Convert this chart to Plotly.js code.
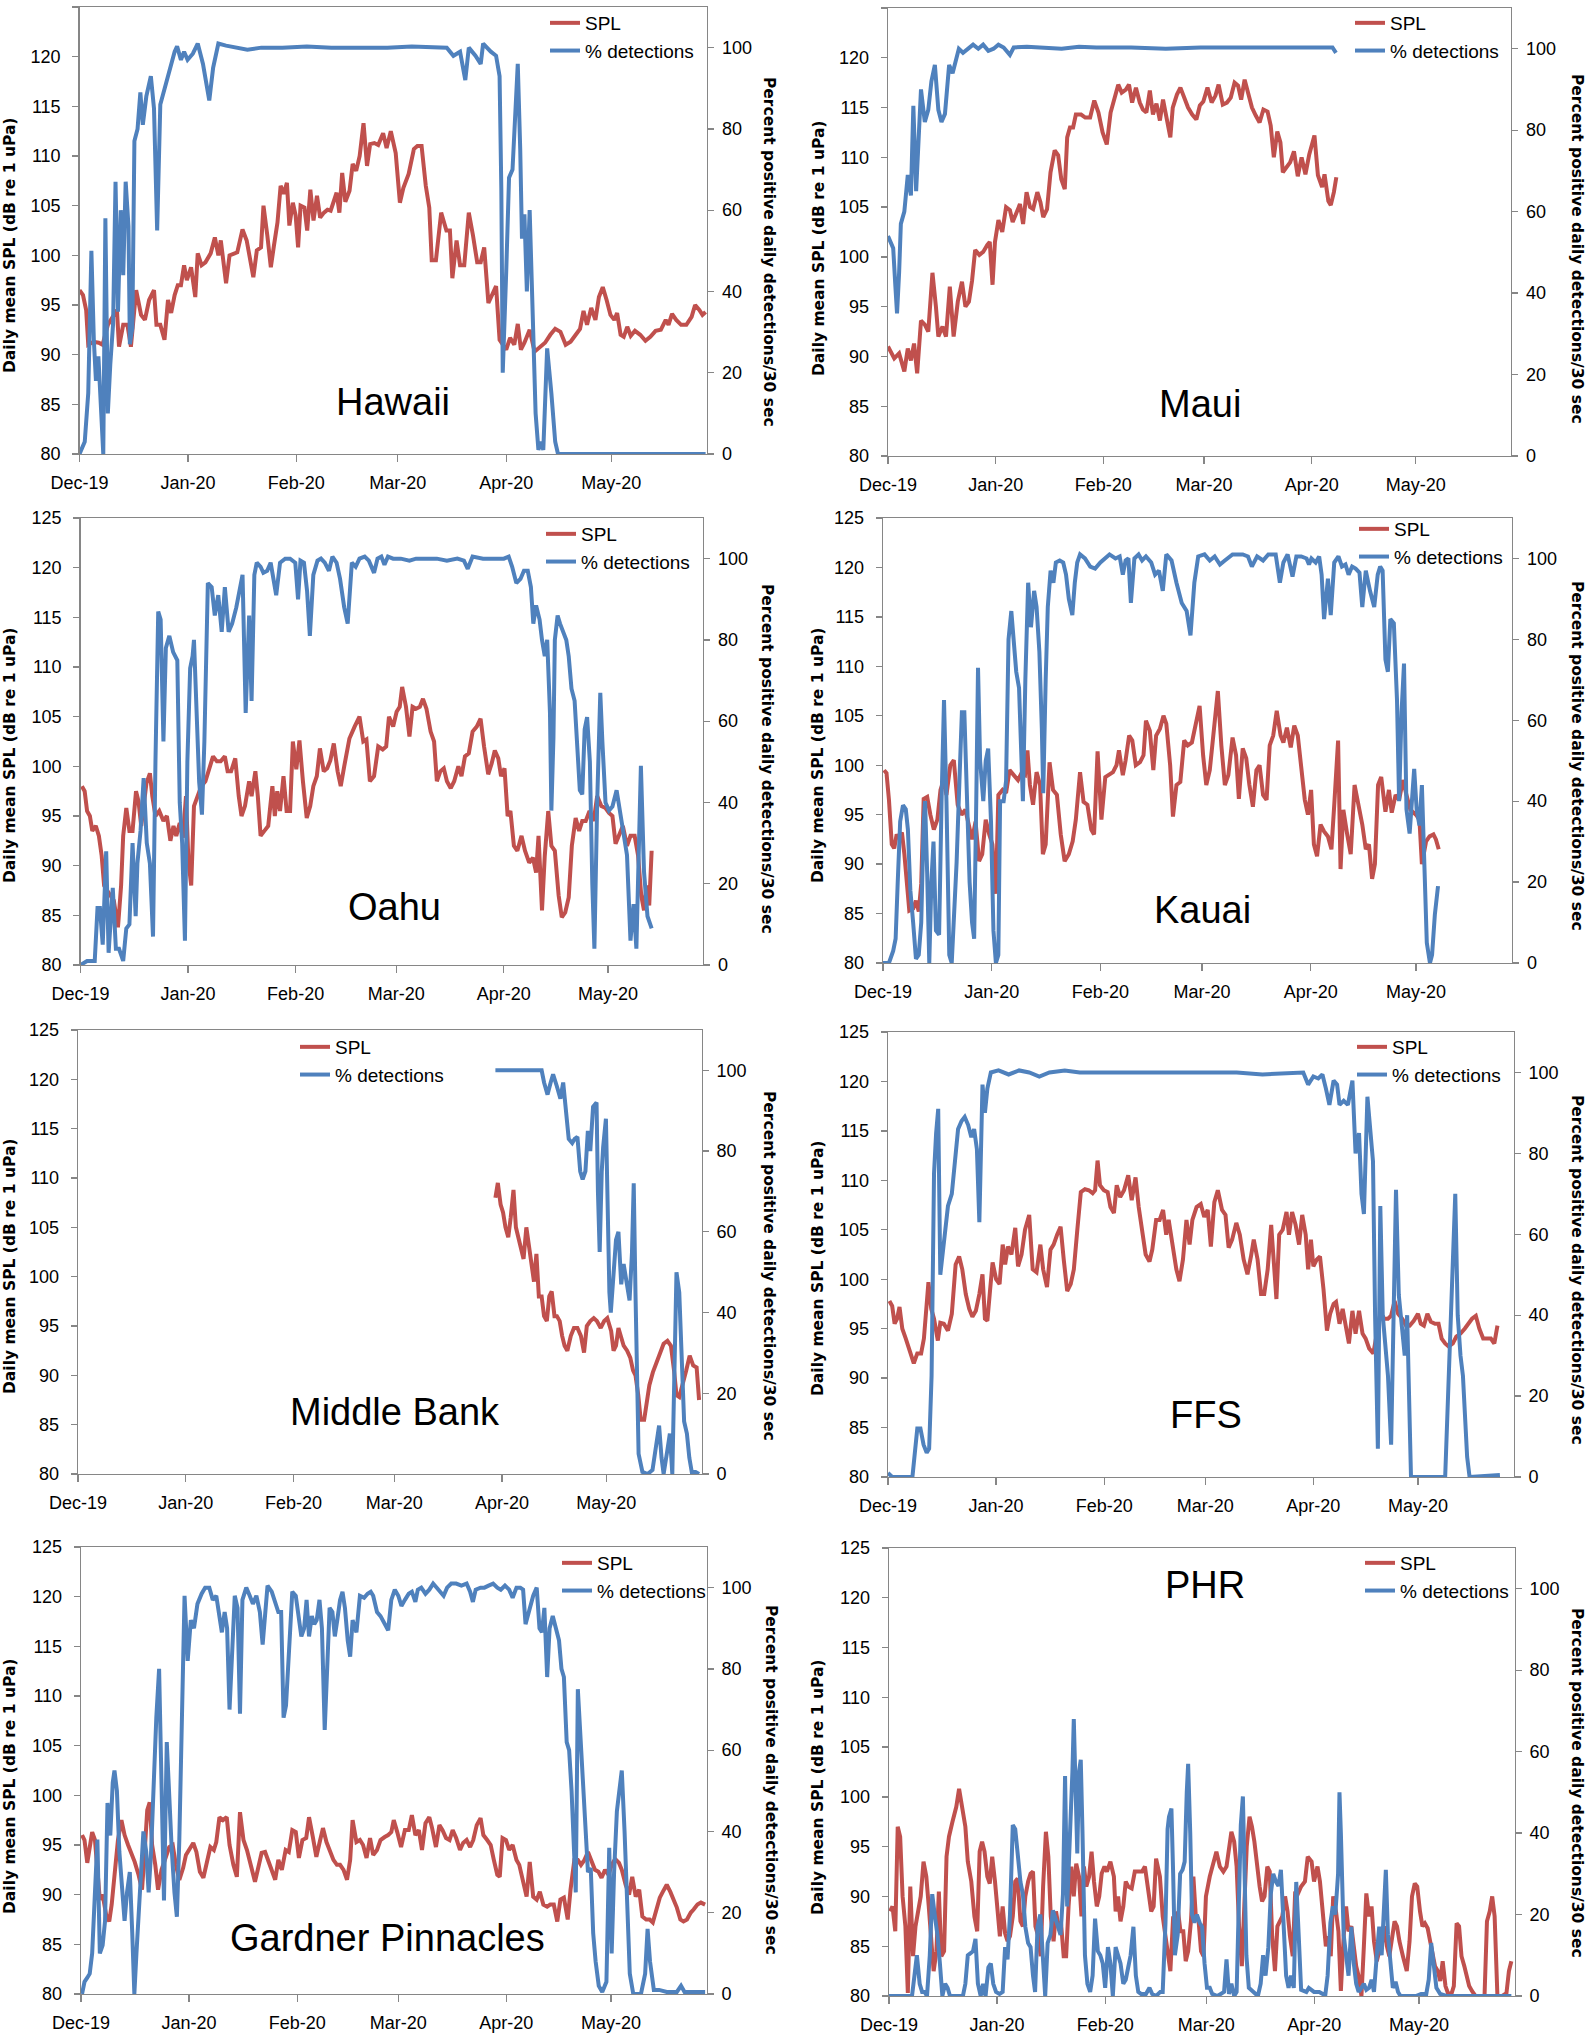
<!DOCTYPE html>
<html>
<head>
<meta charset="utf-8">
<script src="https://cdn.plot.ly/plotly-3.0.1.min.js"></script>
<style>
  body { margin: 0; background: #fff; }
  #chart { width: 1585px; height: 2035px; }
</style>
</head>
<body>
<div id="chart"></div>
<script>
// Daily mean SPL and % detections per site, Dec 2019 - May 2020.
// Each point is [days since 2019-12-01, value].

const stations = ['Hawaii', 'Maui', 'Oahu', 'Kauai', 'Middle Bank', 'FFS', 'Gardner Pinnacles', 'PHR'];
const seriesNames = ['SPL', '% detections'];
const startDay = '2019-12-01';

const hawaiiSpl = [[0,96.5],[1,96],[1.9,94.5],[2.5,91],[4,91.3],[5.5,91.2],[6.6,91],[8.1,93],[10.7,94.5],[11.3,90.8],[12.5,93],[13.7,93],[14.7,90.8],[16.2,96.5],[17.6,94],[18.7,93.5],[19.9,95.5],[21.3,96.5],[22,93],[23.1,93],[24.3,91.5],[25.3,95.5],[26.2,94.2],[27.2,96],[28.1,97],[29,97],[29.9,99],[30.7,97.5],[31.9,98.8],[33.1,95.8],[33.8,100.2],[34.9,99],[36,99.3],[37.5,100.2],[38.7,101.8],[39.7,100],[40.4,101.5],[41.9,97.2],[42.9,100],[44.1,100.2],[45.1,100.3],[46.6,102.6],[47.8,101.5],[49.7,97.8],[50.7,100.5],[51.9,100.8],[52.6,105],[53.7,102],[54.7,98.8],[55.6,101],[56.6,103.3],[57.5,107],[58.4,106.2],[59.3,107.3],[60,103],[61,105.3],[61.8,104],[62.5,100.8],[63.2,105],[64.3,104.8],[65.1,102.5],[66,106.6],[66.9,103.5],[67.9,106],[68.8,103.8],[69.9,104.3],[70.9,104.6],[71.8,104.5],[72.8,105.5],[73.5,106.3],[74.3,104.3],[75.1,108.3],[76,105.4],[77.2,106.5],[78.1,109.2],[79.1,108.5],[80.1,110],[81.2,113.3],[82.2,109],[83.1,111.2],[84.3,111.3],[85.4,111.1],[86.8,112.3],[87.8,110.8],[89,112.5],[90.4,110.3],[91.6,105.3],[92.6,106.8],[94.1,108.2],[95.6,110.7],[96.6,111],[97.8,111],[99,107],[100,104.8],[100.7,99.5],[101.9,99.5],[103.4,104.3],[104.9,102.5],[105.9,102.5],[106.6,97.7],[107.8,101.5],[108.8,99],[110,99],[111.3,104.3],[112.5,102],[113.7,99.3],[114.7,99.3],[115.7,100.8],[116.9,95.2],[118.1,96.2],[119.1,96.9],[120.1,91.5],[122,90.5],[123.1,91.7],[124.3,91],[125.3,93.1],[126.2,90.5],[127.2,91.2],[128.7,92.5],[130.1,90.3],[131.6,90.7],[133.1,91.2],[134.6,92],[136,92.6],[137.5,92.3],[139,91],[140.4,91.3],[141.9,92],[143.1,92.6],[144.1,94.4],[145.1,93],[146.3,94.7],[147.5,93.5],[148.5,95.8],[149.6,96.8],[150.7,95.5],[151.8,94],[152.9,93.5],[153.7,94.2],[154.7,92],[155.6,91.8],[156.6,92.8],[157.6,91.9],[158.8,92.4],[160.3,92],[161.8,91.4],[163.2,91.8],[164.7,92.4],[166.2,92.5],[167.6,93.5],[168.4,93],[169.4,94.1],[170.6,93.5],[172,93],[173.5,93],[175,93.8],[176,95],[177.2,94.5],[178.1,94],[179,94.3]];
const hawaiiDet = [[0,0],[1.5,3],[2.5,15],[3.4,50],[4.1,28],[4.7,18],[5.4,24],[6.2,10],[6.8,0],[7.4,58],[8.1,10],[8.8,22],[9.6,32],[10.3,67],[11,35],[11.8,60],[12.5,44],[13.2,67],[14,56],[14.4,27],[15.1,31],[15.7,77],[16.6,80],[17.4,89],[18.1,81],[19.1,88],[20.4,93],[21.3,85],[21.8,70],[22.2,55],[23.1,86],[24.3,90],[25.7,94],[27.2,99],[27.9,100.3],[29,97],[29.9,99],[30.9,97],[32.4,98.5],[33.8,101],[35.3,96],[36.3,91],[37.1,87],[38.2,95],[39.7,101],[41.9,100.5],[45,100],[48,99.5],[52,100],[58,100],[65,100.3],[72,100],[80,100],[88,100],[95,100.3],[102,100],[105,100],[106.9,98],[108.8,99],[110.3,92],[111.3,100],[113.2,98],[114.7,96],[115.4,101],[117.6,99],[119.1,98],[120.1,93],[120.6,65],[121,20],[122,45],[122.8,68],[123.8,70],[124.6,85],[125.3,96],[126,75],[126.5,53],[127.2,59],[127.9,40],[128.7,60],[129.4,40],[130.4,10],[131.2,1],[131.9,3],[132.6,1],[133.7,26],[134.9,15],[136,3],[136.8,0],[179,0]];

const mauiSpl = [[0,91],[1.8,89.8],[3.2,90.3],[4.7,88.5],[5.7,90.8],[6.6,89.6],[7.5,91.3],[8.4,88.3],[9.5,93.6],[10.6,93.2],[11.6,92.5],[12.8,98.4],[13.8,95],[14.5,92],[15.7,93],[16.7,92],[17.8,97],[18.9,92],[20.1,95.5],[21.3,97.5],[22.3,95],[23.3,95.5],[24.2,97.6],[25.1,100.7],[26.3,100.2],[27.4,100.5],[28.6,101.2],[29.3,101.5],[30.1,97.2],[30.8,101.5],[31.8,103.7],[32.9,102.5],[34,105],[35.1,104.7],[35.9,103.5],[37,104.5],[38,105.3],[38.9,103.3],[39.9,106.5],[40.9,105],[41.8,104.8],[43,106.5],[43.9,105.5],[44.7,104],[45.8,104.8],[46.8,108.5],[48,110.7],[49,110.2],[49.9,107.8],[50.9,106.8],[51.6,112],[52.4,113],[53.3,113],[54.1,114.3],[55.6,114.3],[56.8,114],[58.2,114],[59.4,115.7],[60.6,114.5],[61.8,112.5],[63,111.3],[64.1,114.5],[65.3,116],[66.3,117.3],[67.3,116.5],[68.5,116.8],[69.4,117.3],[70.3,115.5],[71.4,117],[72.5,115.5],[73.4,114.8],[74.4,114.5],[75.4,116.7],[76.3,114.3],[77.3,115.4],[78.3,113.7],[79.2,115.8],[80.3,113.7],[81.3,112],[82,115],[83.2,116.3],[84.2,117],[85.4,116],[86.4,115],[87.6,114.3],[88.8,113.8],[89.8,115.2],[90.8,115.6],[92,117],[93.2,115.5],[94.3,116.2],[95.2,117.3],[96.4,115.3],[97.6,115.5],[98.7,116],[99.8,117.5],[100.8,117.2],[101.7,115.8],[102.7,117.8],[103.7,116.5],[104.8,115],[105.9,114.2],[107,113.5],[108.1,114.8],[109.3,114.6],[110.2,113.2],[111.1,110],[112.1,112.6],[113,111.5],[113.7,108.5],[114.7,109],[115.8,109.5],[116.9,110.6],[118,108.1],[119.1,110],[120.2,108.3],[121.3,110.3],[122.8,112.2],[123.8,108.2],[125,107],[125.7,108.3],[126.8,105.6],[127.5,105.2],[128.4,106.5],[129.1,108]];
const mauiDet = [[0,54],[1.5,51],[2.1,42],[2.6,35],[3.2,45],[3.7,57],[4.7,60],[5.7,69],[6.6,64],[7.3,86],[8.1,65],[8.8,78],[9.5,90],[10.6,82],[11.6,85],[12.5,92],[13.5,96],[14.5,85],[15.4,82],[16.4,84],[17.6,96],[18.6,94],[19.5,97],[20.4,100],[21.6,99],[23,100],[24.5,101],[26,100],[27.4,101],[28.9,99.5],[30.4,100],[31.8,101],[33.3,100.3],[35.1,98.5],[36.2,100.3],[40,100.5],[45,100.3],[50,100],[55,100.5],[60,100.3],[70,100.3],[80,100],[90,100.3],[100,100.3],[110,100.3],[120,100.3],[128,100.3],[129,99]];

const oahuSpl = [[0.4,98],[1.2,97.5],[1.9,95.5],[2.7,95],[3.4,93.5],[4.4,94],[5.3,93],[6.1,91],[6.8,88],[7.6,87.5],[8.6,87],[9.6,86.5],[10.8,83.8],[11.7,88],[12.3,93],[13.2,95.8],[14.1,93.5],[15,93.5],[16,97.5],[16.7,96.5],[17.5,94],[18.2,96],[19,98.3],[20,99.3],[20.7,97],[21.6,95],[22.7,95.5],[23.9,94.5],[24.9,95],[25.9,92.5],[26.8,94],[27.6,93],[28.6,94.3],[29.5,92.8],[30.4,97],[31.1,90.5],[31.9,88],[32.7,96],[33.8,97],[34.8,98],[36,98.5],[37.2,100],[38.2,101],[39.3,100.5],[40.4,100.5],[41.6,101],[42.4,99.5],[43.4,99.5],[44.6,100.8],[45.6,97],[46.4,95],[47.4,96],[48.6,98.5],[49.3,97],[50.4,99.5],[51.1,97],[51.9,93],[53,93.5],[54.1,94],[55.3,98],[56,95],[56.7,97.5],[57.5,95.5],[58.5,99],[59.4,95.5],[60.4,95.5],[61.2,102.5],[62.2,99.7],[63.1,102.6],[64.1,98.5],[65.2,94.8],[66.2,96],[67.1,98],[68.1,99],[69,101.8],[70.1,99.5],[71.1,99.8],[72,100.6],[73,102.3],[74.1,99.5],[75,98],[76,100],[77.5,102.8],[79,104],[80.4,105],[81.5,102.5],[82.4,102.7],[83.4,98.5],[84.6,99],[85.8,102],[87.1,101.7],[88.1,102],[88.9,105],[90.1,104],[91.1,105.5],[92,106],[92.7,108],[93.8,106],[94.8,103],[95.7,106],[96.7,105.8],[97.8,106],[98.7,106.8],[99.7,105.8],[100.9,103.5],[101.9,102.5],[102.7,98.5],[103.7,99.5],[104.7,99.8],[105.6,98.5],[106.7,97.8],[107.7,98.5],[108.9,100],[109.8,99],[110.8,101],[111.9,101.3],[113,103.5],[114.2,104],[115.3,104.8],[116.3,102],[117.5,99.2],[118.5,100.3],[119.4,101.6],[120.4,100.8],[121.2,99],[122.2,99.8],[123.1,95],[123.9,95.5],[124.9,92],[125.9,91.5],[127.1,93],[128.1,91.5],[129.3,90.3],[130.4,90.8],[131.3,89.3],[132,93],[133,85.5],[133.8,91],[134.8,95.5],[135.7,92],[136.7,91.5],[137.8,87],[138.7,84.8],[139.7,85.3],[140.7,86.8],[141.6,92],[142.7,94.8],[143.7,93.5],[144.6,94.5],[145.6,94.5],[146.7,95.5],[147.9,94.5],[148.9,97],[150.1,96],[151.3,95.8],[152.3,95.3],[153.3,95],[154.2,92.2],[155.3,93.3],[156.3,94],[157.5,92],[158.5,93],[159.7,93],[160.7,91],[161.6,87],[162.4,85.5],[163.1,88],[163.9,86],[164.6,91.5]];
const oahuDet = [[0,0],[1.9,1],[4.1,1],[4.9,14],[5.6,14],[6.4,5],[7.4,28],[8.1,3],[9.3,19],[10.2,4],[11.1,4],[12.3,1],[13.2,9],[14.1,10],[15,30],[15.9,12],[16.4,25],[17.3,33],[18.2,46],[19.1,30],[20,25],[20.9,7],[21.6,50],[22.4,87],[23.1,85],[23.9,55],[24.6,78],[25.6,81],[26.7,77],[27.9,75],[28.6,40],[29.3,30],[30.1,6],[30.8,50],[31.6,73],[32.3,76],[32.7,80],[33.5,60],[34.2,45],[35,37],[35.7,55],[36.7,94],[37.8,93],[38.7,86],[39.7,91],[40.7,82],[41.6,93],[42.7,82],[43.7,84],[44.9,88],[45.9,92],[46.7,96],[47.6,62],[48.1,73],[48.6,86],[49.3,65],[50.1,96],[50.8,99],[51.9,98],[52.7,96.5],[53.8,97],[54.8,99],[55.6,95],[56.4,91],[57.5,99],[59,100],[60.4,100],[61.9,99],[62.7,90],[63.4,99.5],[64.4,99],[65.3,92],[66.1,81],[67.1,96],[68.3,99.5],[69.3,100],[70.4,99],[71.6,97],[72.6,100.5],[73.8,99],[74.8,95],[76,88],[77,84],[78.2,99],[79.3,98],[80.4,100],[81.9,100.5],[83.1,99.5],[84.6,96.5],[85.6,100],[86.7,100.5],[87.6,98.5],[88.6,100.5],[90.1,100],[92.3,100],[94.8,99.5],[96.7,100],[99.7,100],[102.7,100],[105.6,99.5],[108.6,100],[110.5,99.5],[111.6,97.5],[113,100.5],[116,100],[119,100],[122,100],[123.4,100.5],[124.4,98],[125.6,94],[126.8,95],[127.8,97],[128.9,97],[129.8,93],[130.5,84],[131.3,88.5],[132.3,85],[133,80],[133.8,76],[134.5,80],[135.3,62],[135.7,38],[136.3,56],[136.7,80],[137.5,86],[138.2,84],[139,82],[140,80],[140.7,76],[141.5,68],[142.4,65],[143.1,55],[143.9,43],[144.6,42],[145.3,58],[146,61],[146.8,50],[147.5,20],[148.1,4],[148.9,40],[149.8,67],[150.4,55],[151.3,40],[152.3,38],[153.3,39],[154.5,43],[155.6,37],[156.4,33],[157.5,27],[158.5,6],[159.4,15],[160.2,4],[160.9,35],[161.5,49],[162.4,23],[163.4,12],[164.6,9]];

const kauaiSpl = [[0.3,99.5],[1,99.2],[1.7,96.5],[2.5,92],[3.2,91.6],[3.9,93],[4.6,92.6],[5.4,93.2],[6.1,91],[6.8,87.5],[7.5,85.3],[8.6,85.5],[9.4,86.3],[10.2,85.2],[10.9,88],[11.6,96.6],[12.6,96.8],[13.5,95],[14.5,93.5],[15.5,94.5],[16.4,97.5],[17.3,98.5],[18.1,97],[19.2,100],[20.2,100.5],[21.3,96],[22.4,95],[23.5,95.5],[24.5,94],[25.4,92.5],[26.4,94.3],[27.4,90.3],[28.3,91],[29.3,94.5],[30.3,93],[31.2,92],[32.2,87],[32.9,97],[34.1,97.5],[35.1,97.2],[36.1,99.5],[37.3,99],[38.5,98.5],[39.5,99.2],[40.5,99],[41.2,101.5],[41.9,98],[42.8,96],[43.8,99.3],[44.8,98],[45.6,91],[46.4,92],[47.5,100.3],[48.5,97.5],[49.6,97],[50.7,93],[51.8,90.3],[53,91],[54.1,92.3],[55,94.5],[56.2,99.3],[57.2,96.3],[58.3,96],[59.4,93.5],[60.2,93],[61.2,101.4],[62.3,94.5],[63.4,98.8],[64.4,99],[65.6,99.3],[66.6,100],[67.3,101.5],[68.4,99],[69.2,100.5],[70.2,103],[71.1,102.5],[72.1,100],[73.3,100.3],[74.3,101],[75,104.5],[76.1,103.5],[77.1,99.5],[77.9,103],[79,103.7],[80,105],[80.8,104.2],[81.9,100],[82.7,94.8],[83.7,98],[84.8,98.3],[85.9,102.5],[86.9,102],[88.1,102.3],[89.1,103.8],[90.3,106],[91.3,101],[92.2,98],[93.2,99.5],[94.3,103],[95.5,107.5],[96.5,102],[97.5,98],[98.5,99],[99.7,102.8],[100.7,101],[101.5,96.6],[102.6,101.7],[103.6,100.7],[104.5,98],[105.5,95.8],[106.5,99.5],[107.4,100],[108.4,97],[109.4,96.5],[110.3,102],[111.3,103],[112.3,105.5],[113.4,103],[114.2,102.3],[115.2,103.8],[116.3,101.8],[117.3,104],[118.3,103],[119.3,100],[120.3,96.5],[121.2,95],[122.1,97.5],[122.9,92],[123.8,90.8],[124.8,94],[125.8,93.3],[126.9,92.8],[127.9,91.5],[128.7,96],[129.8,102.5],[130.5,89.5],[131.3,95.5],[132.4,93],[133.4,91],[134.5,98],[135.7,96],[136.7,94],[137.7,91.5],[138.6,92],[139.5,88.5],[140.3,90],[141.2,98],[142.1,98.8],[143.3,95.3],[144.3,97.5],[145.1,95.2],[146.2,97],[147.2,96.5],[148.3,98.5],[149.3,97],[150.4,95.5],[152,95],[153,94.5],[153.7,90],[154.9,92.3],[155.9,92.8],[157,93],[157.7,92.5],[158.5,91.5]];
const kauaiDet = [[0,0],[1.7,0],[2.9,3],[3.6,6],[4.2,20],[4.9,35],[5.7,39],[6.5,38],[7.1,33],[7.8,18],[8.6,10],[9.4,1],[10.2,2],[10.9,10],[11.6,35],[12,40],[12.6,22],[13.2,0],[13.8,20],[14.4,30],[15.1,8],[16,7],[16.7,40],[17.4,65],[18.1,40],[18.9,2],[19.6,0],[20.3,12],[21,25],[21.8,45],[22.5,62],[23.2,62],[23.9,45],[24.7,20],[25.4,10],[26,6],[26.6,40],[27.1,73],[27.7,50],[28.6,40],[29.3,50],[30,53],[30.8,35],[31.5,8],[32.2,0],[32.9,2],[33.4,40],[34.4,40],[35.1,45],[35.8,80],[36.6,87],[37.3,80],[38,72],[38.8,68],[39.5,45],[39.9,40],[40.6,70],[41.4,94],[42.2,83],[43.1,92],[43.8,88],[44.6,77],[45.3,58],[45.7,42],[46.4,70],[47,88],[47.8,97],[48.6,94],[49.3,99],[50.4,99.5],[51.4,99],[52.2,96],[53,90],[54,86],[54.7,94],[55.4,99],[56.2,101],[57.6,100],[59.1,98],[60.5,97.5],[62,99],[63.4,100],[64.6,101],[66.3,100],[67.5,100.5],[68.4,96],[69.2,99.5],[70,100],[70.7,89],[71.7,100],[72.9,101],[73.9,99.5],[75,100.5],[76.5,99],[77.6,96],[78.7,97],[79.8,92],[80.8,101],[82.3,99.5],[83.7,94],[85.2,89],[86.6,87],[87.7,81],[88.8,94],[89.9,100.5],[91.7,101],[93.2,99.5],[94.6,100.5],[96.1,98.5],[97.5,99.5],[99.7,101],[102.6,101],[104.1,100.5],[105.2,98],[106.7,100.5],[108.4,99.5],[109.9,101],[112,101],[113.2,94],[114.2,99],[115.4,101],[116.8,95.5],[117.9,100.5],[119.3,100.5],[120.8,100],[121.5,98.5],[122.2,100],[123.4,99],[124.4,100.5],[125.1,96],[125.8,85],[126.9,95],[127.7,86],[128.7,99],[129.9,100.5],[130.9,98],[131.9,98.5],[132.8,96],[133.8,98],[134.8,97.5],[135.9,96.5],[136.7,88],[137.7,97],[138.9,92],[140.1,88],[141.1,96],[141.8,98],[142.5,97],[143.3,75],[144,72],[144.7,85],[145.7,84],[146.6,65],[147.2,40],[147.9,62],[148.6,74],[149.3,38],[150.2,32],[150.8,40],[151.5,48],[152.2,38],[153,34],[153.7,44],[154.4,20],[155.1,5],[156,0],[156.6,2],[157.4,12],[158.3,19]];

const middleBankSpl = [[120.1,108],[120.8,109.5],[121.6,107.3],[122.3,106.5],[123,105],[123.8,104],[124.5,106],[125.3,108.8],[126,105],[126.7,104],[127.5,102.5],[128.2,101.8],[129,105],[129.7,103],[130.4,101],[131.2,99.5],[131.9,102.3],[132.6,98],[133.4,98],[134.1,96],[134.9,95.5],[135.6,98],[136.3,98.5],[137.1,96],[137.8,96],[138.6,95.5],[139.3,94],[140,93],[140.8,92.5],[141.8,94],[142.7,94.8],[143.7,94.8],[144.7,94],[145.6,92.3],[146.4,95],[147.4,95.5],[148.4,95.8],[149.3,95.5],[150.4,94.8],[151.4,95.5],[152.3,95.8],[153.4,94.5],[154.1,92.5],[154.8,93],[155.5,94.8],[156.3,94],[157,93],[158,92.5],[158.9,91.8],[159.7,90.5],[160.4,90],[161.2,88],[161.9,85.5],[162.9,85.5],[163.7,87.5],[164.4,89],[165.4,90.3],[166.6,91.5],[167.7,92.5],[168.5,93.2],[169.6,93.5],[170.6,93],[171.5,90.5],[172.2,88],[173,87.8],[174,89],[175,90.5],[176,92],[177,91],[178,90.8],[178.7,87.5]];
const middleBankDet = [[120.1,100],[123.8,100],[126.7,100],[131.2,100],[133.4,100],[134.1,97],[135.1,94],[136,97],[136.7,99],[137.8,96],[138.8,93],[139.6,97],[140.3,91],[141.2,83],[142.2,82],[142.9,83],[143.7,83.5],[144.5,75],[145.2,73],[146,75],[146.7,85],[147.4,80],[148.2,91],[149.2,92],[149.6,70],[150.1,55],[150.7,75],[151.1,81],[151.9,88],[152.3,70],[152.9,45],[153.3,40],[154.1,50],[154.8,58],[155.5,60],[156.3,47],[157,52],[158,47],[158.7,43],[159.4,55],[159.9,72],[160.4,45],[160.9,20],[161.3,5],[162.4,0.5],[163.9,0],[165.3,1],[166.3,7],[167.2,12],[167.9,4],[168.5,0],[169.6,6],[170.3,10],[171,0],[171.5,25],[172.2,50],[173,45],[173.7,30],[174.4,13],[175.2,10],[175.9,4],[176.6,0.5],[177.7,0.5],[178.7,0]];

const ffsSpl = [[0.4,97.8],[1.2,97.3],[1.9,95.5],[2.6,96],[3.3,97.2],[4.1,95],[5.1,94],[6,93],[6.7,92],[7.4,91.5],[8.4,92.5],[9.5,92.5],[10.3,94],[11.1,97],[11.6,99.7],[12.4,97],[13.2,96],[14.3,93.8],[15,95.6],[16,95.5],[17.2,94.8],[18.3,96.5],[19.4,101.5],[20.4,102.3],[21.3,101],[22.3,98.5],[23.3,97],[24.2,96.2],[25.2,96.8],[26.2,98.5],[27.1,100.5],[27.8,96],[28.5,95.8],[29.3,99],[30,101.7],[31,100],[32,99.5],[32.9,103.5],[33.6,101.5],[34.4,103.3],[35.4,102.5],[36.5,105.2],[37.3,101.3],[38.3,102.5],[39.3,105],[40.5,106.5],[41.5,101],[42.6,100.7],[43.7,103.5],[44.5,101],[45.6,99.2],[46.6,103],[47.5,103.5],[48.5,104.5],[49.5,105.3],[50.4,102],[51.4,98.8],[52.4,99.5],[53.3,101],[54.3,105],[55.3,108.8],[56.5,109.1],[57.6,109],[58.7,108.7],[59.4,109],[60.1,112],[60.8,109.5],[61.9,109],[63,108.8],[63.8,107.3],[64.8,106.7],[65.6,109.5],[66.6,108.3],[67.7,109],[68.9,110.5],[69.9,108],[71,110.3],[71.9,107.3],[72.9,105],[73.9,102.5],[75,101.8],[75.8,103],[76.9,106],[77.9,106],[78.9,107],[79.8,104.5],[80.5,106],[81.5,103.5],[82.7,101],[83.6,99.8],[84.6,102],[85.6,106],[86.5,103.5],[87.3,106],[88.5,107.3],[89.7,107.6],[90.7,106.3],[91.7,107],[92.6,103.3],[93.6,107.8],[94.6,109],[95.8,107],[96.8,106.5],[97.7,103.2],[98.7,104],[99.9,105.7],[100.9,104.5],[102,102],[103.1,100.5],[104.1,102.3],[104.9,104],[106,102],[107,98.5],[107.9,98.5],[108.9,101],[109.9,105.5],[110.6,102],[111.4,98],[112.2,104.5],[113.2,105],[114.3,106.8],[115,104.5],[115.9,106.8],[116.9,105.5],[117.9,103.5],[118.8,106.5],[119.8,104.5],[120.5,101],[121.3,104],[122,101.3],[123,102],[123.9,102.3],[124.9,99],[125.9,94.8],[126.8,96.5],[127.8,97.5],[128.5,97.7],[129.5,95.5],[130.4,97],[131.1,95.5],[132.2,93.5],[133.2,96.8],[134.1,94.5],[135.1,96.8],[136.1,94.5],[137,94],[138,93],[139.2,92.5],[140.2,94.5],[141.2,96.5],[142.4,96],[143.4,96],[144.3,96.3],[145.3,97.8],[146.3,96.5],[147.5,96],[148.6,95.3],[149.6,95.3],[150.8,95.8],[152,96.5],[152.8,95.5],[153.7,95.3],[154.7,96.5],[155.7,95.7],[156.9,95.5],[157.9,95.5],[158.8,94],[159.8,93.5],[160.8,93.2],[162,93.5],[163,94.2],[164.2,94.5],[165.4,95],[166.4,95.5],[167.5,96],[168.6,96.3],[169.6,95],[170.7,94],[171.8,94],[172.9,94],[173.9,93.5],[174.8,95.3]];
const ffsDet = [[0,1],[1.2,0],[7,0],[7.7,5],[8.4,12],[9.3,12],[10.2,8],[11.1,6],[11.8,7],[12.5,25],[13.2,75],[13.8,85],[14.4,91],[15,50],[15.7,55],[16.4,62],[17.2,67],[18.3,70],[19.4,80],[20.1,86],[21.1,88],[22,89],[23,87],[23.9,84],[24.7,86],[25.5,81],[26.2,63],[27.1,97],[27.8,90],[28.5,96],[29.5,100],[31.7,100.5],[34.6,99.5],[37.6,100.5],[40.5,100],[43.4,99],[46.3,100],[50.7,100.5],[55,100],[65,100],[74,100],[88.5,100],[100,100],[107.4,99.5],[119.1,100],[120.5,97],[122,99],[123.4,98.5],[124.6,99.5],[125.6,96],[126.6,92],[127.8,98],[128.8,97],[129.5,92],[130.7,93],[131.9,92],[133.2,98],[134.1,80],[135.1,85],[135.8,70],[136.5,65],[137.5,94],[138.3,85],[139.1,78],[139.7,40],[140.5,7],[141.2,67],[141.9,40],[142.6,33],[143.4,25],[144.3,8],[145,45],[145.7,71],[146.5,45],[147.5,37],[148.2,30],[148.9,40],[149.6,10],[150,0],[159.8,0],[161,30],[162,50],[162.7,70],[163.4,40],[164.2,30],[164.9,25],[166.1,5],[166.8,0],[175.5,0.5]];

const gardnerSpl = [[0.3,96],[1,95.5],[1.8,93.2],[2.5,95],[3.2,96.3],[4,95.5],[4.7,92],[5.4,89.5],[6.2,90],[7.2,88],[8.1,87.3],[8.8,89],[9.9,93],[10.6,95.5],[11.6,97.5],[12.5,96],[13.5,95],[14.6,94],[15.4,93.3],[16.5,92],[17.5,90.5],[18.2,94],[19,98.5],[19.7,99.3],[20.4,95],[21.3,93],[22.1,90.5],[23.1,92.5],[24.1,93.5],[25.3,94.8],[26.3,95],[27.2,93],[28.2,91.5],[29.3,92.7],[30.1,94],[31.2,94.7],[32.2,95.2],[33.1,94.3],[34.1,92.3],[35.1,91.7],[36,93],[37.1,94.8],[38.1,94.5],[38.8,95.3],[39.7,97.8],[40.7,97.5],[41.8,97.8],[42.6,95],[43.7,93],[44.7,91.8],[45.6,98.3],[46.6,95.5],[47.6,94.5],[48.8,93],[49.9,91.3],[50.7,92.5],[51.8,94.2],[52.8,94.3],[53.7,93.5],[54.7,92.5],[55.7,91.5],[56.6,93.5],[57.6,92.5],[58.7,94.5],[59.6,94.3],[60.6,96.5],[61.6,96.3],[62.5,93.7],[63.5,95.5],[64.6,95.7],[65.4,97.8],[66.5,95.8],[67.5,93.8],[68.4,95.2],[69.4,96.7],[70.4,95.3],[71.3,94.5],[72.4,93.5],[73.4,93],[74.3,93],[75.3,92.5],[76.3,91.5],[77.2,93.5],[77.9,97.5],[79,95.3],[80,95.5],[80.9,95],[81.9,93.7],[82.9,95.7],[83.8,94],[84.9,94.5],[85.9,95.5],[87.1,95.8],[88.1,96],[89,96.3],[89.7,97.5],[90.7,96.3],[91.8,94.8],[92.9,96.5],[94,96.5],[94.9,98],[95.9,96],[96.9,96.5],[97.8,94.5],[98.8,97.2],[99.9,97.8],[100.7,96.7],[101.8,94.8],[102.8,97],[103.7,96.5],[104.7,95.7],[105.7,95.5],[106.6,96.5],[107.6,95.7],[108.7,94.5],[109.6,95.2],[110.6,95.5],[111.6,94.8],[112.5,95.5],[113.5,97],[114.6,97.7],[115.4,96],[116.5,95.5],[117.5,95],[118.4,93.5],[119.4,92],[120.1,91.8],[120.9,95.7],[121.9,95.5],[122.8,94.5],[123.8,95],[124.9,93.5],[125.7,93],[126.8,91.5],[127.8,89.8],[128.7,93.3],[129.7,89.8],[130.7,89.5],[131.6,90.3],[132.6,89],[133.7,88.8],[134.6,89],[135.6,89],[136.6,87.3],[137.5,89.5],[138.5,89.7],[139.6,87.5],[140.4,90.5],[141.5,93.5],[142.5,93.5],[143.4,93],[144.4,93.5],[145.4,94.3],[146.3,93.5],[147.4,92.5],[148.4,92.3],[149.3,91.7],[150.3,92.5],[151.3,92],[152.2,93],[153.2,93.6],[154.3,93.2],[155.1,92.5],[156.2,91],[157.2,90],[158.1,91.8],[159.1,89.8],[160.1,90.5],[161,87.8],[162.1,87.5],[163.1,87.5],[164,87.2],[165,88.5],[166,89.7],[166.9,90.3],[168,91],[169,90.3],[169.9,89.6],[170.9,88.7],[171.9,87.5],[172.8,87.3],[173.8,87.5],[174.9,88.2],[175.7,88.5],[176.8,89],[177.8,89.2],[179,89]];
const gardnerDet = [[0.3,0],[1,3],[1.8,4],[2.5,5],[3.2,10],[4,25],[4.7,38],[5.4,10],[6.2,12],[6.9,18],[7.6,47],[8.4,39],[9.1,52],[9.6,55],[10.3,50],[11,35],[11.8,25],[12.5,18],[13.2,25],[14,30],[14.7,15],[15.3,0],[15.9,10],[16.5,18],[17.2,30],[17.9,40],[18.7,35],[19.4,25],[20.1,35],[20.9,55],[21.6,68],[22.4,80],[23.1,55],[23.8,23],[24.6,62],[25.3,48],[26,36],[26.8,25],[27.5,19],[28.2,38],[29,65],[29.7,98],[30.6,82],[31.5,92],[32.4,90],[33.4,96],[34.6,98.5],[35.6,100],[36.8,100],[37.8,97],[38.8,98],[39.7,92],[40.4,89],[41.2,94],[41.9,90],[42.6,70],[43.4,88],[44.1,98],[44.9,95],[45.6,69],[46.3,97],[47.4,100],[48.4,98],[49.3,96],[50.3,98],[51.3,94],[52.1,86],[52.8,95],[53.5,100.5],[54.7,99],[55.7,96],[56.6,94],[57.4,94],[58.1,68],[58.8,71],[59.9,90],[60.6,99],[61.6,98],[62.5,93],[63.2,88],[64,90],[64.7,97],[65.4,88],[66.2,93],[66.9,91],[67.6,92],[68.4,97],[69.1,90],[69.9,65],[70.6,80],[71.3,95],[72.1,94],[72.8,88],[73.5,92],[74.3,97],[75,99],[75.7,95],[76.5,87],[77.2,83],[77.9,92],[79,89],[80,98],[81.2,97.5],[82.2,98.5],[83.1,99],[83.8,98],[84.9,94],[85.9,93],[87.1,91],[88.1,89.5],[89,97],[90,99.5],[91,98],[91.9,95.5],[92.9,97],[94,98.5],[94.9,99],[95.9,96.5],[96.6,99.5],[97.6,100],[98.8,98.5],[99.9,99.5],[101,101],[102.1,100],[102.9,99],[104,98],[105,100],[106.2,101],[107.6,101],[109.1,100.5],[110.6,101],[111.6,99],[112.4,96.5],[113.2,99.5],[114.6,100],[115.7,100],[116.9,100.5],[118.2,101],[119.4,100],[120.4,99.5],[121.6,100.5],[122.8,99.5],[123.8,97.5],[124.9,100],[126,100],[126.8,99.5],[127.5,91],[128.5,94],[129.7,98],[130.7,100],[131.5,90],[132.2,89],[132.9,95],[133.7,78],[134.4,90],[135.3,93],[136.3,90],[137.1,87],[137.8,80],[138.5,78],[139.3,62],[140,60],[140.7,50],[141.5,35],[141.9,25],[142.5,75],[143.2,65],[144,50],[144.7,40],[145.4,30],[146.2,31],[146.9,15],[147.6,8],[148.5,2],[149.5,0.5],[150.7,3],[151.5,36],[152.2,10],[152.9,30],[153.7,45],[154.4,50],[155.1,55],[155.9,40],[156.6,20],[157.4,5],[158.4,0],[160.6,0],[161.8,5],[162.5,16],[163.2,8],[164.3,1],[165.8,1],[168,0.5],[170.9,0.5],[172.1,2],[173.1,0.5],[179,0.5]];

const phrSpl = [[0.3,88.5],[1,89],[1.8,86.5],[2.5,97],[3.2,96],[3.9,90],[4.7,87],[5.4,80.3],[6.1,91],[6.9,84],[7.6,87],[8.3,88.5],[9.1,90],[9.9,93.5],[10.7,92],[11.4,89],[12.1,86],[12.8,82.5],[13.6,84.5],[14.3,90.5],[15,84],[15.8,84.5],[16.5,94],[17.2,96],[18.2,97.5],[19.3,99],[20.1,100.8],[20.9,99],[21.9,97],[22.6,93.5],[23.6,91.5],[24.5,88],[25.3,86.5],[26,94.5],[26.7,95.5],[27.4,94.5],[28.2,92],[28.9,91.3],[29.6,94],[30.4,91.5],[31.1,89],[31.8,86],[32.6,89],[33.3,86.3],[34,85.5],[34.7,86],[35.5,88],[36.2,91.5],[36.9,91.8],[37.7,87.5],[38.4,87],[39.1,90],[39.9,91.5],[40.6,92.3],[41.3,92.5],[42,87],[42.8,86],[43.5,84],[44.2,91],[45,96.5],[45.7,94],[46.4,88],[47.2,85.5],[47.9,88.5],[48.6,87],[49.3,87.5],[50.1,84],[50.8,84],[51.5,89],[52.3,93],[53,90],[53.7,93.3],[54.5,92],[55.2,88],[55.9,93],[56.6,91],[57.4,92],[58.1,94.5],[58.8,91.5],[59.6,89],[60.3,90],[61,92.3],[61.8,93],[62.5,92.5],[63.5,93.5],[64.5,92],[65,88.5],[65.7,90],[66.4,87.5],[67.2,89],[67.9,91.5],[68.6,91],[69.6,90.8],[70.5,92.5],[71.5,92.5],[72.6,92.5],[73.4,93],[74.2,91],[75.2,88.5],[75.9,89],[76.6,93.8],[77.7,92],[78.5,88],[79.3,86],[80,84],[80.7,82.5],[81.5,88],[82.2,85.5],[82.9,88.5],[83.6,86.5],[84.4,86.5],[85.1,83.5],[85.8,84.5],[86.6,87.5],[87.3,92],[88,88],[88.8,87.5],[89.5,84.5],[90.2,84],[90.9,90],[92,92],[93,93.5],[93.9,94.5],[94.9,93],[95.9,92.5],[96.8,93],[97.5,94.5],[98.2,96.5],[99,95.5],[99.7,93],[100.4,87],[101.2,83],[101.9,89],[102.6,95],[103.4,98],[104.1,97],[104.8,95.5],[105.5,93],[106.3,91],[107,89.5],[107.7,90],[108.5,93],[109.2,92.5],[109.9,86],[110.7,82.5],[111.4,87],[112.1,87.5],[112.8,88],[113.6,90],[114.3,88.5],[115,86],[115.8,84],[116.5,90.5],[117.2,90.2],[118.2,91],[119.3,91.5],[120.1,94],[121.2,93.5],[121.9,91.5],[122.9,93],[123.6,91.5],[124.5,88.5],[125.3,85],[126,86],[126.7,84],[127.4,90],[128.2,88.5],[128.9,86.5],[129.6,80.5],[130.4,86],[131.1,89],[131.8,86.5],[132.6,87],[133.3,85],[134,83],[134.7,82],[135.5,80],[136.2,85],[136.9,90.3],[137.7,88],[138.4,89],[139.1,85.5],[139.9,83.5],[140.6,84.5],[141.3,85],[142,87],[142.8,85],[143.5,84],[144.2,85.5],[145,87.5],[145.7,87],[146.4,85.5],[147.4,84],[148.5,82.5],[149.3,85.5],[150,90],[150.8,91.3],[151.5,91],[152.3,88.5],[153,87],[153.7,87.3],[154.5,86.8],[155.2,85.5],[155.9,84],[156.6,83],[157.4,82.5],[158.1,81.5],[158.8,83.5],[159.6,81],[160.3,80.3],[161.3,80.2],[162,81],[162.8,87.3],[163.5,87],[164.2,84],[165,83],[165.7,82],[166.4,81],[167.2,80.5],[168.2,80],[170.8,80],[171.5,87.5],[172.3,88.5],[173,90],[173.7,88],[174.5,80],[175.9,80],[177.1,80.3],[177.8,82.5],[178.5,83.5]];
const phrDet = [[0,0],[6.6,0],[7.3,5],[8,10],[8.8,3],[9.5,1],[10.2,1],[10.9,0],[11.7,10],[12.4,25],[13.1,20],[13.9,15],[14.6,8],[15.3,0],[16.1,3],[16.8,2],[17.5,0],[21.2,0],[21.9,3],[22.6,10],[23.4,10.5],[24.1,11],[24.8,14],[25.5,3],[26.3,0],[27,3],[27.7,0],[28.5,7],[29.2,8],[29.9,3],[30.7,1],[31.7,0.5],[32.6,1],[33.3,12],[34,9],[34.7,20],[35.5,42],[36.2,41],[36.9,35],[37.7,28],[38.4,25],[39.1,17],[39.9,13],[40.6,12],[41.3,5],[41.9,1],[42.6,17],[43.4,20],[44.1,10],[44.8,0],[45.5,13],[46.3,15],[47,21],[47.7,19],[48.5,17],[49.2,15],[49.9,25],[50.5,54],[51.1,22],[51.8,35],[52.6,55],[53,68],[53.6,52],[54,35],[54.5,55],[55,58],[55.5,40],[56.2,10],[56.9,3],[57.7,1],[58.4,5],[59.1,19],[59.9,11],[60.6,10],[61.3,8],[62,2],[62.8,12],[63.5,8],[64.2,0],[65,12],[65.7,10],[66.4,8],[67.2,3],[67.9,4],[68.6,7],[69.3,10],[70.1,17],[70.8,5],[71.5,1],[72.3,0.5],[73.7,0.5],[74.7,2],[75.5,0.5],[76.6,0],[77.8,1],[78.5,1],[79.3,18],[79.9,41],[80.3,44],[81,46],[81.5,30],[82,10],[82.8,15],[83.5,30],[84.2,31],[84.8,33],[85.4,50],[85.8,57],[86.4,40],[86.9,20],[87.6,18],[88.3,20],[89.1,18],[89.8,17],[90.5,8],[91.2,2],[92,2],[92.7,0.5],[94.2,0],[95.3,0.5],[96.1,1],[96.8,9],[97.5,0.5],[98.2,3],[99,0],[99.7,1],[100.3,25],[100.9,42],[101.5,49],[101.9,30],[102.5,10],[103.2,2],[104.4,1],[105.8,0],[106.6,3],[107.3,10],[108,5],[108.8,12],[109.5,25],[110.2,30],[111,28],[111.7,27],[112.4,31],[113.1,18],[113.9,5],[114.6,2],[115.3,5],[116.1,2],[116.8,28],[117.5,15],[118.2,1.5],[119.7,1],[120.4,2],[121.9,1],[123.4,1],[124.4,0.5],[125.1,0],[125.8,5],[126.6,18],[127.3,22],[128,20],[128.8,30],[129.2,50],[129.6,40],[130.4,15],[131.1,10],[131.8,5],[132.6,17],[133.3,8],[134,3],[134.7,1],[135.5,2],[136.2,3],[136.9,1.5],[137.7,2],[138.4,4],[139.1,1],[139.9,10],[140.6,17],[141.3,10],[142,20],[142.5,31],[143.1,15],[143.8,8],[144.5,2],[145.3,3.5],[146,1],[146.7,0],[151.1,0],[152.6,0.5],[154.1,0.5],[154.8,4],[155.5,13],[156.2,8],[157,2],[158.1,0.5],[159.9,0],[178.5,0]];

const splSeries = [hawaiiSpl, mauiSpl, oahuSpl, kauaiSpl, middleBankSpl, ffsSpl, gardnerSpl, phrSpl];
const detSeries = [hawaiiDet, mauiDet, oahuDet, kauaiDet, middleBankDet, ffsDet, gardnerDet, phrDet];

// ---- layout settings (pixels in the 1585 x 2035 page) ----
const W = 1585, H = 2035;
const RED = '#C0504D', BLUE = '#4F81BD', AXIS = '#868686';
// plot area of each panel: left, right, top, bottom
const boxes = [
  [79.5, 707, 7, 454], [888, 1511, 8, 456],
  [80.5, 703, 518, 965], [883, 1512, 518, 963],
  [78, 701.5, 1030, 1474], [888, 1513.5, 1032, 1477],
  [81, 706.5, 1547, 1994], [889, 1514.5, 1548, 1996]
];
// station label centre inside the plot area (fraction of width / height)
const labelPos = [[0.5,0.116],[0.5,0.116],[0.504,0.13],[0.508,0.12],[0.508,0.139],[0.508,0.139],[0.49,0.125],[0.505,0.918]];
// legend top-left corner
const legendPos = [[545,4],[1350,4],[541,515],[1354,510],[295,1028],[1352,1028],[557,1544],[1360,1544]];
// axis title centres: left x, left y, right x, right y
const titlePos = [
  [10,246,769,252],[819,248,1577,249],
  [10,756,767,759],[818,756,1577,756],
  [10,1267,769,1266],[818,1269,1577,1270],
  [10,1787,771,1780],[818,1788,1577,1783]
];

function toDate(d) {
  const t = Date.parse(startDay + 'T00:00:00Z') + d * 86400000;
  return new Date(t).toISOString().slice(0, 19).replace('T', ' ');
}

const tickFont = {family: 'Liberation Sans, Arial, sans-serif', size: 18, color: '#000'};
const titleFont = {family: 'DejaVu Sans, Verdana, sans-serif', size: 15.5, color: '#000'};

var traces = [];
var layout = {
  width: W, height: H,
  margin: {l: 0, r: 0, t: 0, b: 0},
  paper_bgcolor: '#fff', plot_bgcolor: '#fff',
  showlegend: true,
  annotations: []
};

stations.forEach((name, i) => {
  var b = boxes[i];
  var xid = i === 0 ? '' : String(i + 1);
  var yl = 2 * i + 1, yr = 2 * i + 2;
  var ylid = yl === 1 ? '' : String(yl);
  var legId = i === 0 ? 'legend' : 'legend' + (i + 1);

  layout['xaxis' + xid] = {
    domain: [b[0] / W, b[1] / W], anchor: 'y' + ylid,
    type: 'date', range: [toDate(0), toDate(179.4)],
    tick0: startDay, dtick: 'M1', tickformat: '%b-%y',
    ticks: 'outside', ticklen: 7, tickwidth: 1.3, tickcolor: AXIS,
    showline: true, linecolor: AXIS, linewidth: 1.3, mirror: true,
    showgrid: false, zeroline: false, automargin: false,
    tickfont: tickFont, ticklabelstandoff: 5
  };
  layout['yaxis' + ylid] = {
    domain: [1 - b[3] / H, 1 - b[2] / H], anchor: 'x' + xid,
    range: [80, 125], dtick: 5,
    ticks: 'outside', ticklen: 6, tickwidth: 1.3, tickcolor: AXIS,
    showline: true, linecolor: AXIS, linewidth: 1.3,
    showgrid: false, zeroline: false, automargin: false,
    tickfont: tickFont, ticklabelstandoff: 8
  };
  layout['yaxis' + yr] = {
    overlaying: 'y' + ylid, anchor: 'x' + xid, side: 'right',
    range: [0, 110], tickvals: [0, 20, 40, 60, 80, 100],
    ticks: 'outside', ticklen: 6, tickwidth: 1.3, tickcolor: AXIS,
    showline: true, linecolor: AXIS, linewidth: 1.3,
    showgrid: false, zeroline: false, automargin: false,
    tickfont: tickFont, ticklabelstandoff: 4
  };

  var lp = legendPos[i];
  layout[legId] = {
    x: lp[0] / W, y: 1 - lp[1] / H, xanchor: 'left', yanchor: 'top',
    bgcolor: 'rgba(0,0,0,0)', borderwidth: 0,
    font: {family: 'Liberation Sans, Arial, sans-serif', size: 19, color: '#000'},
    itemwidth: 30, traceorder: 'normal'
  };

  var spl = splSeries[i], det = detSeries[i];
  traces.push({
    x: spl.map(p => toDate(p[0])), y: spl.map(p => p[1]),
    xaxis: 'x' + xid, yaxis: 'y' + ylid,
    mode: 'lines', line: {color: RED, width: 4},
    name: seriesNames[0], legend: legId
  });
  traces.push({
    x: det.map(p => toDate(p[0])), y: det.map(p => p[1]),
    xaxis: 'x' + xid, yaxis: 'y' + yr,
    mode: 'lines', line: {color: BLUE, width: 4},
    name: seriesNames[1], legend: legId
  });

  // station name
  layout.annotations.push({
    text: name, xref: 'x' + xid + ' domain', yref: 'y' + ylid + ' domain',
    x: labelPos[i][0], y: labelPos[i][1], xanchor: 'center', yanchor: 'middle',
    showarrow: false,
    font: {family: 'Liberation Sans, Arial, sans-serif', size: 38, color: '#000'}
  });

  // axis titles
  var tp = titlePos[i];
  layout.annotations.push({
    text: '<b>Daily mean SPL (dB re 1 uPa)</b>', xref: 'paper', yref: 'paper',
    x: tp[0] / W, y: 1 - tp[1] / H, xanchor: 'center', yanchor: 'middle',
    textangle: -90, showarrow: false, font: titleFont
  });
  layout.annotations.push({
    text: '<b>Percent positive daily detections/30 sec</b>', xref: 'paper', yref: 'paper',
    x: tp[2] / W, y: 1 - tp[3] / H, xanchor: 'center', yanchor: 'middle',
    textangle: 90, showarrow: false, font: titleFont
  });
});

Plotly.newPlot('chart', traces, layout, {displayModeBar: false, staticPlot: true});
</script>
</body>
</html>
